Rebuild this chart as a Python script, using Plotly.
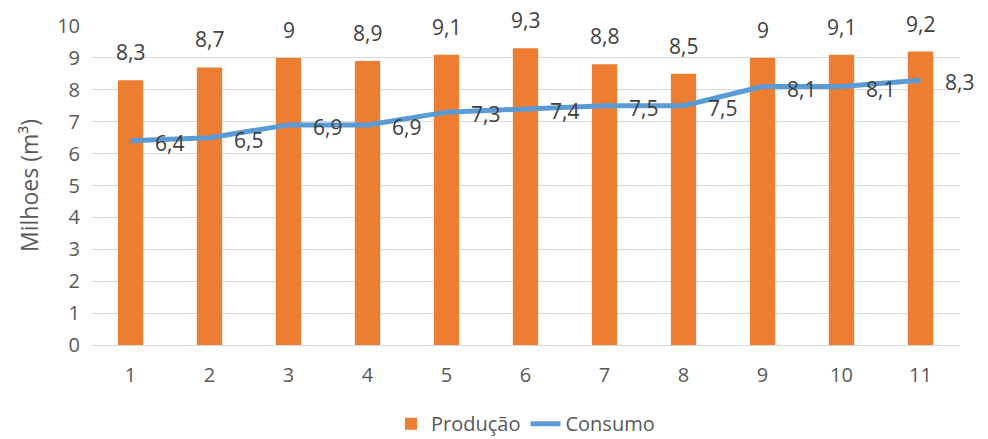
import plotly.graph_objects as go

categories = [1, 2, 3, 4, 5, 6, 7, 8, 9, 10, 11]
producao = [8.3, 8.7, 9.0, 8.9, 9.1, 9.3, 8.8, 8.5, 9.0, 9.1, 9.2]
consumo = [6.4, 6.5, 6.9, 6.9, 7.3, 7.4, 7.5, 7.5, 8.1, 8.1, 8.3]
y_ticks = [0, 1, 2, 3, 4, 5, 6, 7, 8, 9, 10]

def fmt(v):
    s = ("%g" % v)
    return s.replace(".", ",")

FONT = "Open Sans"
GREY = "#595959"

fig = go.Figure()
fig.add_trace(go.Bar(x=categories, y=producao, name="Produção",
                     marker=dict(color="#ED7D31", line=dict(width=0)),
                     width=0.32))
fig.add_trace(go.Scatter(x=categories, y=consumo, name="Consumo", mode="lines",
                         line=dict(color="#5B9BD5", width=5)))

annotations = []
for c, v in zip(categories, producao):
    annotations.append(dict(x=c, y=v, text=fmt(v), showarrow=False, xref="x", yref="y",
                            yanchor="bottom", yshift=12,
                            font=dict(family=FONT, size=21, color="#404040")))
for c, v in zip(categories, consumo):
    annotations.append(dict(x=c, y=v, text=fmt(v), showarrow=False, xref="x", yref="y",
                            xanchor="left", yanchor="middle", xshift=22, yshift=-2,
                            font=dict(family=FONT, size=21, color="#404040")))

fig.update_layout(
    width=988, height=439,
    margin=dict(l=91, r=28, t=23, b=94),
    plot_bgcolor="white", paper_bgcolor="white",
    font=dict(family=FONT, size=20, color=GREY),
    showlegend=True,
    legend=dict(orientation="h", x=0.5, xanchor="center", yref="container",
                y=0.035, yanchor="middle", font=dict(family=FONT, size=20, color=GREY),
                traceorder="normal"),
    xaxis=dict(range=[0.5, 11.5], tickmode="array", tickvals=categories,
               ticktext=[str(c) for c in categories], showgrid=False, zeroline=False,
               showline=True, linecolor="#d9d9d9", linewidth=1, ticks="",
               ticklabelstandoff=12, tickfont=dict(family=FONT, size=20, color=GREY)),
    yaxis=dict(range=[0, 10], tickmode="array", tickvals=y_ticks,
               ticktext=[str(t) for t in y_ticks], showgrid=True, gridcolor="#d9d9d9",
               gridwidth=1, zeroline=False, ticks="", ticklabelstandoff=10,
               tickfont=dict(family=FONT, size=20, color=GREY),
               title=dict(text="Milhoes (m³)", font=dict(family=FONT, size=23, color=GREY),
                          standoff=12)),
    annotations=annotations,
    bargap=0.68,
)

fig.write_html("out.html")
